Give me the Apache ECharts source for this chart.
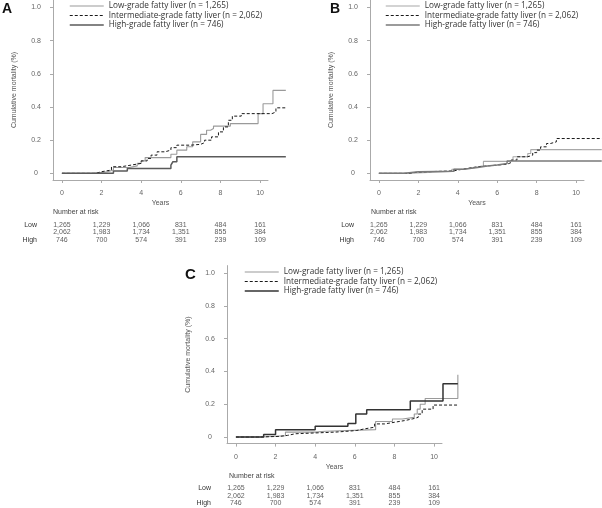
<!DOCTYPE html>
<html><head><meta charset="utf-8">
<script src="https://cdn.jsdelivr.net/npm/echarts@6/dist/echarts.min.js"></script>
<style>html,body{margin:0;padding:0;background:#fff}#c{width:602px;height:508px}</style>
</head><body><div id="c"></div>
<script>
const groupNames = ['Low-grade fatty liver (n = 1,265)', 'Intermediate-grade fatty liver (n = 2,062)', 'High-grade fatty liver (n = 746)'];
const riskRows = ['Low', 'Intermediate', 'High'];
const riskYears = [0, 2, 4, 6, 8, 10];
const riskLow = [1265, 1229, 1066, 831, 484, 161];
const riskInt = [2062, 1983, 1734, 1351, 855, 384];
const riskHigh = [746, 700, 574, 391, 239, 109];
const xTicks = [0, 2, 4, 6, 8, 10];
const yTicks = [0, 0.2, 0.4, 0.6, 0.8, 1.0];

// Panel A
const aLowT = [0, 1.6, 2.3, 2.6, 3.4, 3.8, 4.0, 4.2, 5.5, 5.8, 6.3, 6.6, 7.0, 7.3, 7.5, 7.65, 8.5, 9.9, 10.15, 10.65, 11.3];
const aLowV = [0, 0.01, 0.02, 0.035, 0.045, 0.06, 0.075, 0.095, 0.115, 0.14, 0.16, 0.19, 0.235, 0.26, 0.27, 0.285, 0.30, 0.36, 0.42, 0.50, 0.50];
const aIntT = [0, 1.7, 2.0, 2.5, 3.0, 3.5, 4.0, 4.3, 4.5, 4.8, 5.2, 5.5, 5.8, 6.5, 7.0, 7.2, 7.55, 7.9, 8.15, 8.4, 8.6, 9.05, 10.6, 10.8, 11.3];
const aIntV = [0, 0.01, 0.02, 0.04, 0.05, 0.06, 0.075, 0.09, 0.11, 0.13, 0.14, 0.155, 0.17, 0.175, 0.185, 0.2, 0.22, 0.25, 0.28, 0.32, 0.345, 0.36, 0.37, 0.395, 0.395];
const aHighT = [0, 2.6, 3.3, 5.5, 5.6, 5.8, 11.3];
const aHighV = [0, 0.015, 0.03, 0.05, 0.07, 0.1, 0.1];

// Panel B
const bLowT = [0, 1.3, 3.7, 4.3, 4.9, 5.3, 6.6, 6.8, 7.55, 7.7, 11.3];
const bLowV = [0, 0.012, 0.025, 0.035, 0.045, 0.072, 0.08, 0.10, 0.12, 0.143, 0.143];
const bIntT = [0, 1.5, 2.0, 3.0, 3.8, 4.0, 4.5, 5.0, 5.5, 6.0, 6.5, 6.7, 7.0, 7.55, 7.8, 8.0, 8.2, 8.5, 8.7, 9.0, 11.3];
const bIntV = [0, 0.008, 0.012, 0.015, 0.02, 0.03, 0.04, 0.045, 0.05, 0.055, 0.065, 0.08, 0.10, 0.11, 0.125, 0.14, 0.16, 0.18, 0.19, 0.21, 0.21];
const bHighT = [0, 1.3, 2.0, 3.8, 4.3, 5.0, 5.5, 6.0, 6.5, 11.3];
const bHighV = [0, 0.01, 0.012, 0.025, 0.035, 0.045, 0.05, 0.06, 0.075, 0.075];

// Panel C
const cLowT = [0, 1.3, 2.5, 4.0, 4.5, 7.05, 7.9, 8.4, 9.0, 9.15, 9.3, 9.55, 11.2];
const cLowV = [0, 0.008, 0.03, 0.035, 0.045, 0.095, 0.11, 0.12, 0.14, 0.17, 0.2, 0.235, 0.38];
const cIntT = [0, 1.1, 2.2, 2.6, 3.0, 4.0, 5.0, 5.6, 6.1, 6.5, 7.0, 7.5, 8.0, 8.5, 8.9, 9.2, 9.4, 9.95, 11.2];
const cIntV = [0, 0.004, 0.01, 0.02, 0.025, 0.03, 0.035, 0.04, 0.05, 0.06, 0.08, 0.09, 0.10, 0.11, 0.12, 0.14, 0.17, 0.195, 0.195];
const cHighT = [0, 1.4, 2.0, 4.0, 5.65, 6.05, 6.6, 8.8, 10.45, 11.2];
const cHighV = [0, 0.015, 0.045, 0.065, 0.083, 0.14, 0.167, 0.22, 0.325, 0.325];

const FONT = 'Liberation Sans, Arial, sans-serif';
const X_MIN = -0.45, X_AXIS_MAX = 10.4, X_DATA_MAX = 11.35;
const panels = [
  { letter: 'A', lx: 2, ly: 9.5, lsize: 14, left: 53, top: 0, scale: 215 / 10.85, height: 180, tableTop: 221.25, nrx: 53, nry: 212, legend: { left: 69, top: 2 },
    curves: [[aLowT, aLowV], [aIntT, aIntV], [aHighT, aHighV]], colors: ['#9a9a9a', '#1a1a1a', '#5a5a5a'] },
  { letter: 'B', lx: 330, ly: 9.5, lsize: 14, left: 370, top: 0, scale: 214 / 10.85, height: 180, tableTop: 221.25, nrx: 371, nry: 212, legend: { left: 385, top: 2 },
    curves: [[bLowT, bLowV], [bIntT, bIntV], [bHighT, bHighV]], colors: ['#a8a8a8', '#1a1a1a', '#7a7a7a'] },
  { letter: 'C', lx: 185, ly: 274.5, lsize: 15, left: 227, top: 265.6, scale: 215 / 10.85, height: 178, tableTop: 484.5, nrx: 229, nry: 476, legend: { left: 244, top: 268 },
    curves: [[cLowT, cLowV], [cIntT, cIntV], [cHighT, cHighV]], colors: ['#9a9a9a', '#1a1a1a', '#333333'] }
];
const widths = [1.1, 1, 1.5];
const types = ['solid', [3, 2], 'solid'];
const axisGray = '#aaaaaa';

const grid = [], xAxis = [], yAxis = [], series = [], legend = [], graphic = [];
const G = o => Object.assign({ outerBoundsMode: 'none', containLabel: false }, o);

// data grids (0..2): y axis + curves; x axis hidden, extends past the drawn x axis
panels.forEach((p, i) => {
  grid.push(G({ left: p.left, top: p.top, width: (X_DATA_MAX - X_MIN) * p.scale, height: p.height }));
  xAxis.push({ gridIndex: i, type: 'value', min: X_MIN, max: X_DATA_MAX, show: false });
  yAxis.push({ gridIndex: i, type: 'value', min: -0.04, max: 1.045,
    axisLine: { show: true, onZero: false, lineStyle: { color: axisGray, width: 1 } },
    axisTick: { show: true, customValues: yTicks, length: 3, lineStyle: { color: axisGray } },
    axisLabel: { customValues: yTicks, formatter: v => (v === 0 ? '0' : v.toFixed(1)), align: 'center', margin: 17, fontSize: 7, color: '#666', fontFamily: FONT },
    splitLine: { show: false },
    name: 'Cumulative mortality (%)', nameLocation: 'middle', nameGap: 35, nameTextStyle: { fontSize: 7, color: '#555', fontFamily: FONT } });
  p.curves.forEach((c, k) => {
    series.push({ type: 'line', name: groupNames[k], xAxisIndex: i, yAxisIndex: i,
      data: c[0].map((t, j) => [t, c[1][j]]), step: 'end', symbol: 'none', silent: true,
      itemStyle: { color: p.colors[k] }, lineStyle: { color: p.colors[k], width: widths[k], type: types[k] }, z: 2 + (k === 2 ? 1 : 0) });
  });
  legend.push({ orient: 'vertical', left: p.legend.left, top: p.legend.top, padding: 0, itemWidth: 34, itemHeight: 10, itemGap: 1.5,
    selectedMode: false, textStyle: { fontSize: 8.2, color: '#333', fontFamily: 'Open Sans, sans-serif' },
    data: groupNames.map((n, k) => ({ name: n, lineStyle: { color: p.colors[k], width: widths[k], type: types[k] }, itemStyle: { color: 'rgba(0,0,0,0)', opacity: 0, borderWidth: 0 } })) });
  graphic.push({ type: 'text', x: p.lx, y: p.ly, silent: true, style: { text: p.letter, font: 'bold ' + p.lsize + 'px Liberation Sans, Arial, sans-serif', fill: '#111', align: 'left', verticalAlign: 'middle' } });
  graphic.push({ type: 'text', x: p.nrx, y: p.nry, silent: true, style: { text: 'Number at risk', font: '7px Liberation Sans, Arial, sans-serif', fill: '#444', align: 'left', verticalAlign: 'middle' } });
});
// x-axis grids (3..5)
panels.forEach((p, i) => {
  const gi = 3 + i;
  grid.push(G({ left: p.left, top: p.top, width: (X_AXIS_MAX - X_MIN) * p.scale, height: p.height }));
  xAxis.push({ gridIndex: gi, type: 'value', min: X_MIN, max: X_AXIS_MAX,
    axisLine: { show: true, onZero: false, lineStyle: { color: axisGray, width: 1 } },
    axisTick: { show: true, customValues: xTicks, length: 3, lineStyle: { color: axisGray } },
    axisLabel: { customValues: xTicks, margin: 10, fontSize: 7, color: '#666', fontFamily: FONT },
    splitLine: { show: false },
    name: 'Years', nameLocation: 'middle', nameGap: 19.5, nameTextStyle: { fontSize: 7, color: '#555', fontFamily: FONT } });
  yAxis.push({ gridIndex: gi, type: 'value', min: -0.04, max: 1.045, show: false });
});
// number-at-risk grids (6..8)
panels.forEach((p, i) => {
  const gi = 6 + i;
  grid.push(G({ left: p.left, top: p.tableTop, width: (X_AXIS_MAX - X_MIN) * p.scale, height: 22.5 }));
  xAxis.push({ gridIndex: gi, type: 'value', min: X_MIN, max: X_AXIS_MAX, show: false });
  yAxis.push({ gridIndex: gi, type: 'category', data: riskRows, inverse: true,
    axisLine: { show: false }, axisTick: { show: false }, splitLine: { show: false },
    axisLabel: { margin: 16, fontSize: 7, color: '#333', fontFamily: FONT } });
  const tables = [riskLow, riskInt, riskHigh];
  series.push({ type: 'scatter', name: 'risk', xAxisIndex: gi, yAxisIndex: gi, silent: true, symbolSize: 1,
    itemStyle: { color: 'rgba(0,0,0,0)' },
    data: riskRows.flatMap((r, ri) => riskYears.map((yr, j) => [yr, r, tables[ri][j]])),
    label: { show: true, position: 'inside', formatter: d => d.value[2].toLocaleString('en-US'), fontSize: 7, color: '#333', fontFamily: FONT } });
});

const chart = echarts.init(document.getElementById('c'), null, { renderer: 'canvas' });
chart.setOption({ animation: false, backgroundColor: '#fff', grid, xAxis, yAxis, series, legend, graphic });
</script>
</body></html>
